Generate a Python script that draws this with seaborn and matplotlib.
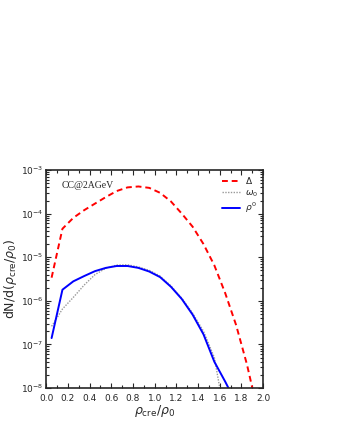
import numpy as np
import pandas as pd
import matplotlib
matplotlib.use("Agg")
import matplotlib.pyplot as plt
from matplotlib.ticker import MultipleLocator, LogLocator, NullFormatter
import seaborn as sns

# density bins (rho_cre / rho_0)
x_delta = [0.05, 0.15, 0.25, 0.35, 0.45, 0.55, 0.65, 0.75, 0.85, 0.95,
           1.05, 1.15, 1.25, 1.35, 1.45, 1.55, 1.65, 1.75, 1.85, 1.90]
y_delta = [3.4e-6, 4.5e-5, 8.0e-5, 1.2e-4, 1.7e-4, 2.4e-4, 3.3e-4, 4.0e-4, 4.2e-4, 3.9e-4,
           3.0e-4, 1.9e-4, 1.0e-4, 5.0e-5, 2.0e-5, 6.5e-6, 1.5e-6, 2.8e-7, 3.5e-8, 1.0e-8]

x_omega = [0.05, 0.15, 0.25, 0.35, 0.45, 0.55, 0.65, 0.75, 0.85, 0.95,
           1.05, 1.15, 1.25, 1.35, 1.45, 1.55, 1.60]
y_omega = [2.6e-7, 6.5e-7, 1.2e-6, 2.3e-6, 4.0e-6, 5.6e-6, 6.6e-6, 6.7e-6, 6.0e-6, 5.0e-6,
           3.7e-6, 2.2e-6, 1.15e-6, 5.2e-7, 2.0e-7, 5.0e-8, 1.0e-8]

x_rho = [0.05, 0.15, 0.25, 0.35, 0.45, 0.55, 0.65, 0.75, 0.85, 0.95,
         1.05, 1.15, 1.25, 1.35, 1.45, 1.55, 1.65, 1.68]
y_rho = [1.4e-7, 1.8e-6, 2.8e-6, 3.7e-6, 4.8e-6, 5.7e-6, 6.3e-6, 6.3e-6, 5.7e-6, 4.7e-6,
         3.5e-6, 2.1e-6, 1.1e-6, 4.8e-7, 1.7e-7, 4.0e-8, 1.4e-8, 1.0e-8]

df_delta = pd.DataFrame({"x": x_delta, "y": y_delta})
df_omega = pd.DataFrame({"x": x_omega, "y": y_omega})
df_rho = pd.DataFrame({"x": x_rho, "y": y_rho})

sns.set_style("ticks")
plt.rcParams["font.family"] = ["DejaVu Sans"]
plt.rcParams["mathtext.fontset"] = "dejavusans"

fig = plt.figure(figsize=(3.37, 4.36), dpi=100)
ax = fig.add_axes([0.137, 0.110, 0.644, 0.500])

sns.lineplot(data=df_delta, x="x", y="y", ax=ax, color="red", linestyle=(0, (3, 2)),
             linewidth=1.4, label=r"$\Delta$")
sns.lineplot(data=df_omega, x="x", y="y", ax=ax, color="#999999", linestyle=(0, (1, 1)),
             linewidth=1.0, label=r"$\omega_0$")
sns.lineplot(data=df_rho, x="x", y="y", ax=ax, color="blue", linestyle="-",
             linewidth=1.4, label=r"$\rho^0$")

ax.set_yscale("log")
ax.set_xlim(0.0, 2.0)
ax.set_ylim(1e-8, 1e-3)
ax.xaxis.set_major_locator(MultipleLocator(0.2))
ax.xaxis.set_minor_locator(MultipleLocator(0.1))
ax.yaxis.set_major_locator(LogLocator(base=10, numticks=10))
ax.yaxis.set_minor_locator(LogLocator(base=10, subs=np.arange(2, 10), numticks=10))
ax.yaxis.set_minor_formatter(NullFormatter())
ax.tick_params(which="both", direction="in", top=True, right=True, labelsize=6.5,
               width=0.8)
ax.tick_params(axis="x", pad=4)
ax.tick_params(axis="y", pad=2)
ax.tick_params(which="major", length=3.5)
ax.tick_params(which="minor", length=2)
for s in ax.spines.values():
    s.set_linewidth(1.2)

ax.set_xlabel(r"$\rho_{\mathrm{cre}}/\rho_0$", fontsize=9, labelpad=0)
ax.set_ylabel(r"dN/d($\rho_{\mathrm{cre}}/\rho_0$)", fontsize=9, labelpad=1)

ax.text(0.07, 0.93, "CC@2AGeV", transform=ax.transAxes, fontsize=7,
        family="Liberation Serif", va="center")

leg = ax.legend(loc="upper right", frameon=False, fontsize=6.5, handlelength=2.0,
                labelspacing=0.2, borderaxespad=0.2, handletextpad=0.5)

fig.savefig("out.png", dpi=100)
